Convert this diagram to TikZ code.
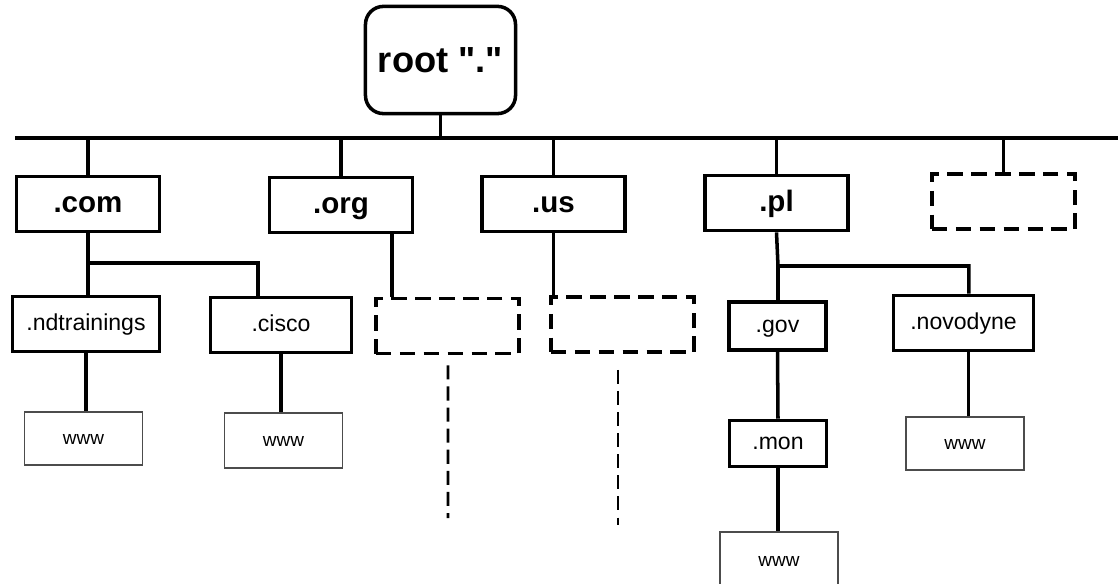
\documentclass[tikz,border=0pt]{standalone}
\usepackage{fontspec}
\setmainfont{Liberation Sans}
\usepackage{tikz}
\usetikzlibrary{positioning,calc}
\newcommand\straightdq{\XeTeXglyph\XeTeXcharglyph"22\relax}

\begin{document}
\begin{tikzpicture}[
  x=0.025cm,y=-0.025cm,
  wire/.style={line width=2.5pt},
  tail/.style={line width=2pt,dash pattern=on 10pt off 5pt},
  rootbox/.style={draw,line width=2.5pt,rounded corners=0.45cm,minimum width=3.75cm,minimum height=2.68cm,text height=18pt,text depth=0pt,font=\fontsize{25.8}{28}\selectfont\bfseries},
  tld/.style={draw,line width=2.5pt,minimum width=3.58cm,minimum height=1.38cm,text height=12.5pt,text depth=0pt,font=\fontsize{21}{24}\selectfont\bfseries},
  sld/.style={draw,line width=2.5pt,minimum width=3.55cm,minimum height=1.38cm,text height=9.2pt,text depth=0pt,font=\fontsize{16.4}{19}\selectfont},
  small/.style={draw,line width=2.5pt,minimum width=2.42cm,minimum height=1.2cm,text height=9.2pt,text depth=0pt,font=\fontsize{16.4}{19}\selectfont},
  blank/.style={draw,line width=2.5pt,dash pattern=on 11pt off 6pt,minimum width=3.58cm,minimum height=1.38cm},
  host/.style={draw=black!70,line width=1pt,minimum width=2.95cm,minimum height=1.33cm,text height=9pt,text depth=0pt,font=\fontsize{13.5}{16}\selectfont}
]
  \useasboundingbox (0,0) rectangle (1118,584);
  % root and bus
  \node[rootbox] (root) at (440.5,60) {root \straightdq.\straightdq};
  \coordinate (busL) at (15,138);
  \coordinate (busR) at (1125,138);
  \draw[wire] (busL) -- (busR);
  \draw[wire] (root.south) -- (root.south |- busL);
  % top level domains
  \node[tld] (com) at (88,204) {.com};
  \node[tld] (org) at (341,205) {.org};
  \node[tld] (us) at (553.5,204) {.us};
  \node[tld] (pl) at (776.5,203) {.pl};
  \node[blank] (more) at (1003.5,201.5) {};
  \foreach \n in {com,org,us,pl,more}
    \draw[wire] (\n.north) -- (\n.north |- busL);
  % second level
  \node[sld,minimum width=3.68cm] (ndtrainings) at (86,324) {.ndtrainings};
  \node[sld,minimum width=3.52cm] (cisco) at (281,325) {.cisco};
  \node[blank] (orgsub) at (447.5,326) {};
  \node[blank] (ussub) at (622.5,324.5) {};
  \node[small] (gov) at (777.5,326) {.gov};
  \node[sld,minimum width=3.5cm] (novodyne) at (963.5,323) {.novodyne};
  % hosts
  \node[host] (wwwnd) at (83.5,438.5) {www};
  \node[host,minimum height=1.37cm] (wwwcisco) at (283.5,440.5) {www};
  \node[small,minimum height=1.15cm] (mon) at (778,443.5) {.mon};
  \node[host,minimum height=1.4cm] (wwwmon) at (779,560) {www};
  \node[host] (wwwnovo) at (965,443.5) {www};
  % .com branch
  \coordinate (comfork) at (88,263);
  \coordinate (ciscodrop) at (258,297);
  \draw[wire] (com.south) -- (comfork) -| (ciscodrop);
  \draw[wire] (comfork) -- (comfork |- ndtrainings.north);
  \draw[wire] (ndtrainings.south) -- (ndtrainings.south |- wwwnd.north);
  \draw[wire] (cisco.south) -- (cisco.south |- wwwcisco.north);
  % .org and .us branches
  \coordinate (orgdrop) at (392,0);
  \draw[wire] (orgdrop |- org.south) -- (orgdrop |- orgsub.north);
  \draw[wire] (us.south) -- (us.south |- ussub.north);
  \coordinate (orgtail) at (448,518);
  \coordinate (ustail) at (618,525);
  \draw[tail] ($(orgsub.south)+(0.5,10)$) -- (orgtail);
  \draw[tail] ($(ussub.south)+(-4.5,16)$) -- (ustail);
  % .pl branch
  \coordinate (plfork) at (778,266);
  \draw[wire] (pl.south) -- (plfork) -| ([xshift=3.8pt]novodyne.north);
  \draw[wire] (plfork) -- (plfork |- gov.north);
  \draw[wire] (gov.south) -- (mon.north);
  \draw[wire] (mon.south) -- (mon.south |- wwwmon.north);
  \draw[wire] ([xshift=3.5pt]novodyne.south) -- ([xshift=3.5pt]novodyne.south |- wwwnovo.north);
\end{tikzpicture}
\end{document}
